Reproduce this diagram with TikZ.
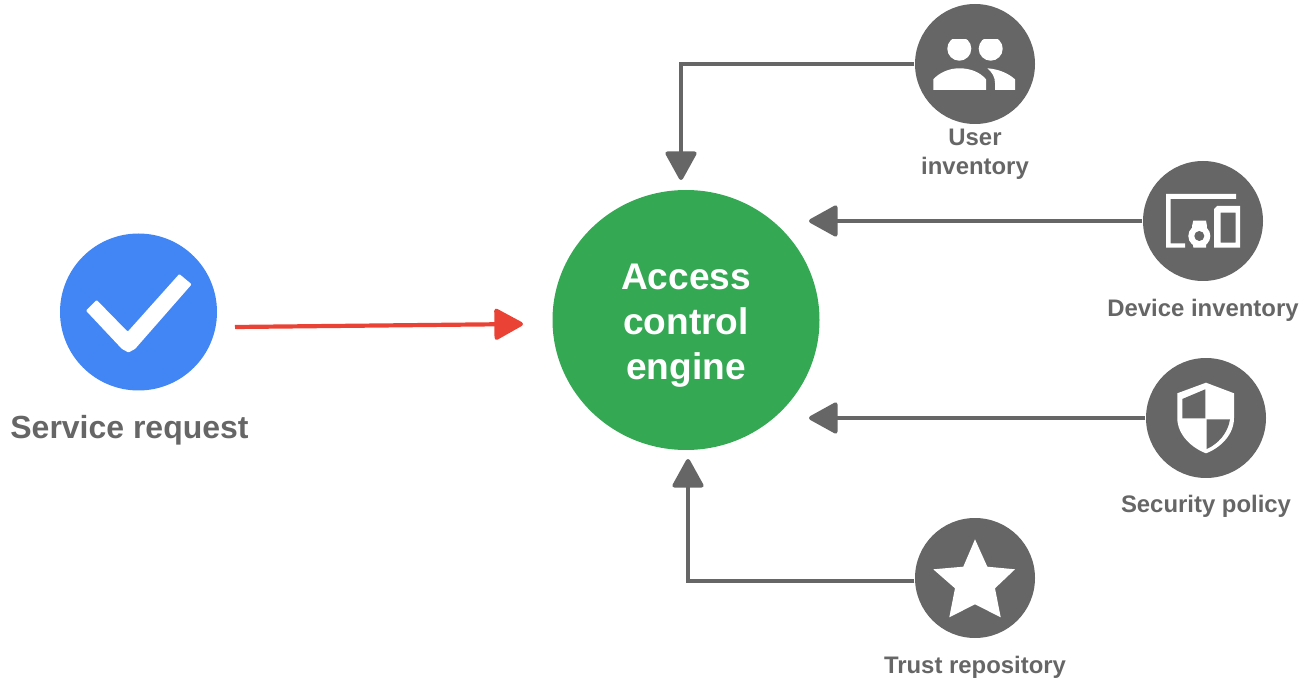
\documentclass[tikz,border=0pt]{standalone}
\usepackage{fontspec}
\setmainfont{Liberation Sans}
\usepackage{tikz}
\usetikzlibrary{shapes.geometric, arrows.meta}
\definecolor{icongray}{HTML}{666666}
\definecolor{enginegreen}{HTML}{34A853}
\definecolor{requestblue}{HTML}{4285F4}
\definecolor{requestred}{HTML}{EA4335}

\begin{document}
\begin{tikzpicture}[
  x=0.1mm, y=-0.1mm,
  source/.style={circle, fill=icongray, inner sep=0pt, minimum size=12mm},
  caption/.style={text=icongray, align=center, font=\fontsize{6.8pt}{8.25pt}\selectfont\bfseries},
  arrow/.style={-{Triangle[round, length=3.1mm, width=3.3mm]}, line width=0.42mm, draw=icongray},
  icon/.style={fill=white, even odd rule}
]
\useasboundingbox (0,0) rectangle (1303,681);

% --- Hauptknoten ---
\node[circle, fill=requestblue, inner sep=0pt, minimum size=15.7mm] (request) at (138.5,312) {};
\node[ellipse, fill=enginegreen, inner sep=0pt, minimum width=26.7mm, minimum height=26mm] (engine) at (686,320) {};
\node[text=white, align=center, font=\fontsize{10.55pt}{12.8pt}\selectfont\bfseries] (enginelabel) at (686,325.5) {Access\\control\\engine};
\node[text=icongray, font=\fontsize{9.1pt}{11pt}\selectfont\bfseries] (requestlabel) at (129.5,430) {Service request};

% --- Quellen rechts ---
\node[source] (user) at (975,64) {};
\node[source] (device) at (1203,221) {};
\node[source] (security) at (1206,418) {};
\node[source] (trust) at (975,578) {};

\node[caption] (userlabel) at (975,154) {User\\inventory};
\node[caption] (devicelabel) at (1203,310) {Device inventory};
\node[caption] (securitylabel) at (1206,506) {Security policy};
\node[caption] (trustlabel) at (975,667) {Trust repository};

% Pfeilenden vor dem Kreis
\coordinate (engineuser) at (681,180);
\coordinate (enginedevice) at (809,221);
\coordinate (enginesecurity) at (809,418);
\coordinate (enginetrust) at (688,459);
\coordinate (requeststart) at (235,327);
\coordinate (requestend) at (523,324);

% Verbindungen
\draw[arrow] (user.west) -| (engineuser);
\draw[arrow] (device.west) -- (enginedevice);
\draw[arrow] (security.west) -- (enginesecurity);
\draw[arrow] (trust.west |- 0,581) -| (enginetrust);
\draw[arrow, draw=requestred] (requeststart) -- (requestend);

% --- Symbole ---
% Haken
\fill[icon, rounded corners=0.1mm] (86,310.7) -- (96.7,300) -- (127.7,331.7) -- (179.3,274) -- (191.7,284.3)
  -- (135,349) -- (128.5,352.5) -- (122,349) -- cycle;

% Personen
\begin{scope}
  \clip (940,40) rectangle (1010,70);
  \fill[white] (959.3,48.7) circle (12);
  \fill[white] (990.7,48.7) circle (12);
\end{scope}
\fill[white] (933.3,90) -- (933.3,79.3) .. controls (940,72) and (950,68.3) .. (959.3,68.3)
  .. controls (970,68.3) and (980,72) .. (986,79.3) -- (986,90) -- cycle;
\fill[white] (987.3,68.3) .. controls (998,69) and (1008,73) .. (1015,79.3) -- (1015,90) -- (995,90) -- (995,83)
  .. controls (995,77) and (992,72) .. (987.3,68.3) -- cycle;

% Geraete
\fill[white] (1166,194) -- (1236,194) -- (1236,199) -- (1170.7,199) -- (1170.7,243.3) -- (1185,243.3)
  -- (1185,247.7) -- (1166,247.7) -- cycle;
\fill[icon] (1217,206) -- (1240,206) -- (1240,247.7) -- (1214,247.7) -- (1214,209) -- cycle
  (1220.7,212.7) rectangle (1235.7,242.7);
\fill[white] (1193.3,220.7) -- (1206,220.7) -- (1207,226) -- (1206,247.7) -- (1193.3,247.7) -- (1192,226) -- cycle;
\fill[white] (1199.3,236) circle (11);
\fill[icongray] (1199.3,236) circle (5);

% Schild
\fill[white] (1206,382.7) -- (1234,393.3) -- (1234,418) .. controls (1234,435) and (1220,448) .. (1206,453.3)
  .. controls (1192,448) and (1177.3,435) .. (1177.3,418) -- (1177.3,393.3) -- cycle;
\fill[icongray] (1182.3,399) -- (1205.3,389.3) -- (1205.3,418.3) -- (1182.3,418.3) -- cycle;
\fill[icongray] (1206.7,419.3) -- (1230,419.3) .. controls (1228,433) and (1218,444) .. (1206.7,449) -- cycle;

% Stern
\fill[white] (975,539.3) -- (987.3,566.7) -- (1015,569.3) -- (995,588.3) -- (1000.7,617.3) -- (975,604.3)
  -- (949.3,617.3) -- (955,588.3) -- (933.3,569.3) -- (963.3,566.7) -- cycle;
\end{tikzpicture}
\end{document}
